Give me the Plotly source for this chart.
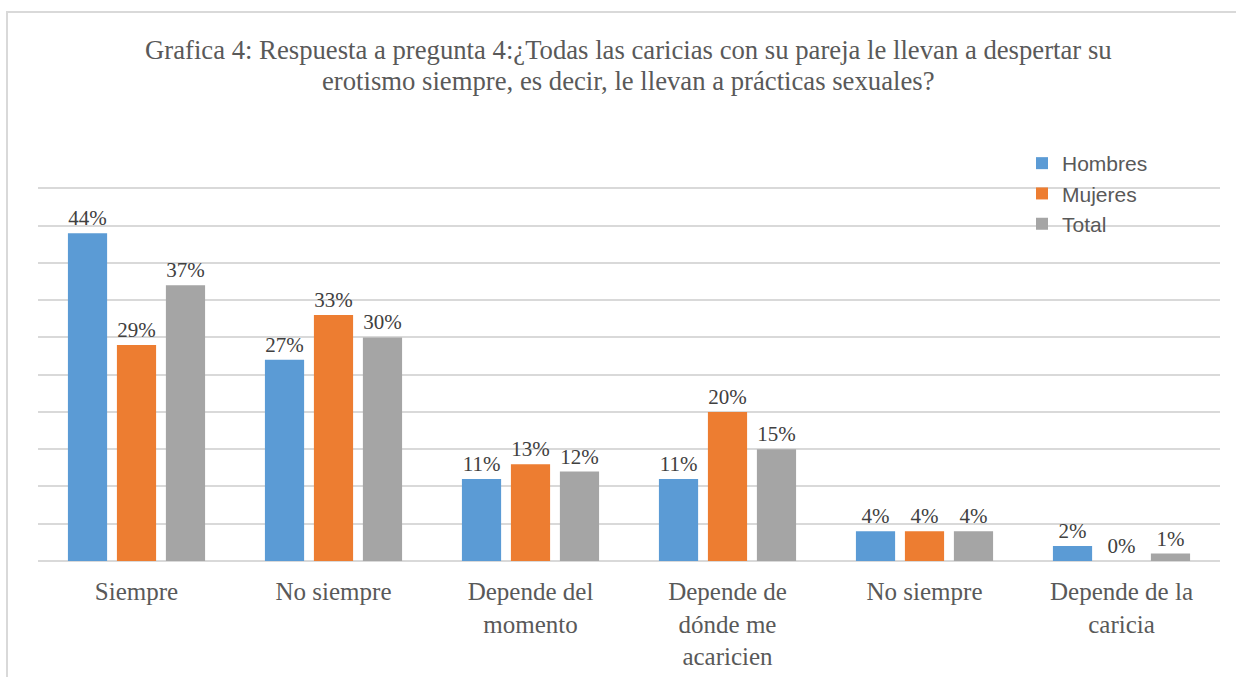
import plotly.graph_objects as go

categories = ["Siempre", "No siempre", "Depende del<br>momento",
              "Depende de<br>dónde me<br>acaricien", "No siempre",
              "Depende de la<br>caricia"]
hombres = [44, 27, 11, 11, 4, 2]
mujeres = [29, 33, 13, 20, 4, 0]
total = [37, 30, 12, 15, 4, 1]
series_names = ["Hombres", "Mujeres", "Total"]
colors = ["#5B9BD5", "#ED7D31", "#A5A5A5"]
title_lines = ["Grafica 4: Respuesta a pregunta 4:¿Todas las caricias con su pareja le llevan a despertar su",
               "erotismo siempre, es decir, le llevan a prácticas sexuales?"]

W, H = 1236, 677
L, R, T, B = 38, 16, 181, 116
pw, ph = W - L - R, H - T - B

xpos = list(range(len(categories)))
fig = go.Figure()
for name, vals, col in zip(series_names, [hombres, mujeres, total], colors):
    fig.add_trace(go.Bar(
        x=xpos, y=vals, name=name, marker_color=col, marker_line_width=0,
        text=[f"{v}%" for v in vals], textposition="outside", cliponaxis=False,
        textfont=dict(family="Liberation Serif", size=21, color="#404040"),
    ))

annotations = []
for i, (line, yc) in enumerate(zip(title_lines, [50, 81])):
    annotations.append(dict(
        text=line, xref="paper", yref="paper", showarrow=False,
        x=(628 - L) / pw, xanchor="center", y=(H - B - yc) / ph, yanchor="middle",
        font=dict(family="Liberation Serif", size=26.7, color="#595959"),
    ))

fig.update_layout(
    width=W, height=H,
    margin=dict(l=L, r=R, t=T, b=B, autoexpand=False),
    barmode="group", bargap=0.254, bargroupgap=0.2,
    plot_bgcolor="white", paper_bgcolor="white",
    annotations=annotations,
    legend=dict(
        x=(1022 - L) / pw, xanchor="left", y=(H - B - 143) / ph, yanchor="top",
        font=dict(family="Liberation Sans", size=21, color="#595959"),
        bgcolor="rgba(0,0,0,0)", itemwidth=30, tracegroupgap=0,
    ),
    xaxis=dict(
        tickvals=xpos, ticktext=categories, range=[-0.5, len(categories) - 0.5],
        showgrid=False, showline=False, ticks="", ticklabelstandoff=13,
        automargin=False,
        tickfont=dict(family="Liberation Serif", size=25, color="#595959"),
    ),
    yaxis=dict(
        range=[0, 51], tickvals=list(range(5, 51, 5)), showticklabels=False,
        gridcolor="#D9D9D9", gridwidth=1.5, zeroline=True, zerolinecolor="#D9D9D9",
        zerolinewidth=2, showline=False, automargin=False,
    ),
    shapes=[dict(type="rect", xref="paper", yref="paper",
                 x0=(7 - L) / pw, x1=(W + 20 - L) / pw,
                 y0=-(B + 20) / ph, y1=(H - B - 12) / ph,
                 line=dict(color="#D9D9D9", width=2), layer="below")],
)

fig.write_html("out.html", config={"displayModeBar": False},
               post_script="document.body.style.margin='0';")
